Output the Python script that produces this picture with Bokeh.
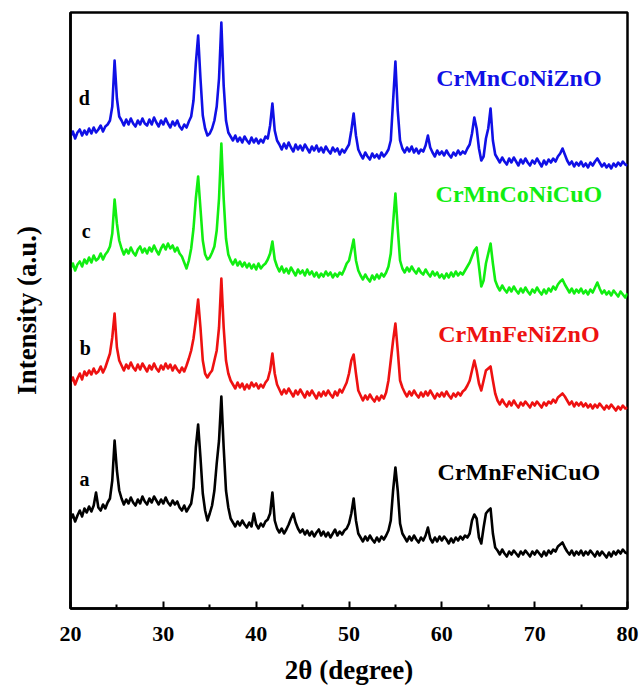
import numpy as np
from bokeh.plotting import figure
from bokeh.models import Range1d, FixedTicker, Label
from bokeh.embed import file_html
from bokeh.resources import INLINE

# scan settings (2theta grid of the measurement)
scan_start = 20.0
scan_step = 0.25
n_points = 241
two_theta = [round(scan_start + scan_step * i, 2) for i in range(n_points)]

# intensities (a.u.), one value per grid step
I_CrMnFeNiCuO = [
    89, 94, 87, 93, 98, 92, 100, 96, 102, 97, 103, 116, 101, 98, 104, 100, 106, 110, 128, 168,
    138, 118, 110, 104, 109, 105, 111, 106, 103, 109, 105, 112, 107, 104, 110, 106, 112, 108, 104, 109,
    105, 111, 106, 103, 108, 104, 107, 101, 98, 103, 97, 101, 105, 121, 161, 184, 151, 115, 98, 88,
    95, 103, 118, 145, 168, 212, 161, 118, 101, 90, 86, 82, 87, 83, 88, 84, 81, 86, 82, 95,
    84, 80, 85, 82, 87, 89, 95, 116, 88, 80, 76, 80, 75, 79, 84, 90, 95, 86, 80, 76,
    79, 74, 78, 73, 77, 72, 76, 79, 73, 77, 72, 76, 71, 75, 79, 73, 77, 74, 78, 80,
    85, 95, 110, 88, 75, 71, 67, 72, 68, 73, 69, 66, 71, 67, 72, 69, 73, 78, 88, 118,
    141, 118, 85, 75, 71, 67, 72, 68, 73, 69, 66, 71, 68, 73, 81, 70, 66, 71, 67, 72,
    68, 72, 69, 65, 70, 66, 71, 68, 72, 69, 73, 71, 75, 88, 94, 90, 71, 65, 81, 95,
    98, 100, 75, 61, 58, 54, 59, 55, 52, 57, 54, 58, 55, 52, 57, 54, 58, 55, 52, 57,
    54, 58, 55, 52, 57, 53, 58, 55, 59, 57, 62, 64, 66, 61, 57, 54, 58, 53, 57, 54,
    58, 53, 57, 54, 58, 55, 52, 57, 53, 57, 54, 51, 56, 52, 57, 54, 58, 55, 59, 56,
    55,
]
I_CrMnFeNiZnO = [
    86, 91, 84, 90, 95, 89, 97, 93, 98, 94, 100, 95, 97, 102, 96, 101, 108, 115, 131, 155,
    121, 108, 103, 98, 104, 100, 106, 101, 98, 104, 99, 105, 101, 97, 103, 99, 105, 100, 97, 103,
    99, 105, 100, 104, 98, 103, 99, 96, 101, 97, 103, 110, 118, 130, 148, 169, 141, 108, 95, 91,
    95, 98, 108, 118, 141, 190, 141, 108, 95, 88, 84, 80, 86, 81, 85, 79, 84, 80, 86, 82,
    85, 80, 84, 81, 86, 89, 98, 115, 95, 84, 79, 74, 79, 75, 80, 76, 72, 78, 74, 79,
    75, 71, 77, 73, 78, 74, 70, 76, 72, 77, 73, 78, 74, 71, 77, 73, 79, 76, 81, 86,
    95, 108, 114, 95, 78, 73, 68, 73, 69, 74, 70, 67, 72, 68, 73, 70, 76, 88, 108, 128,
    145, 118, 88, 81, 76, 72, 77, 73, 78, 74, 71, 76, 72, 77, 73, 78, 74, 70, 75, 72,
    76, 72, 77, 73, 70, 75, 72, 76, 73, 77, 79, 83, 88, 98, 108, 98, 85, 78, 88, 98,
    100, 102, 88, 75, 68, 64, 69, 65, 62, 67, 63, 68, 64, 61, 66, 63, 67, 64, 61, 66,
    63, 67, 64, 61, 66, 63, 67, 65, 69, 66, 71, 73, 75, 72, 68, 64, 67, 62, 66, 63,
    66, 62, 65, 61, 64, 60, 64, 61, 65, 62, 59, 63, 60, 64, 61, 58, 62, 59, 63, 60,
    61,
]
I_CrMnCoNiCuO = [
    90, 95, 88, 94, 97, 92, 99, 95, 101, 96, 103, 98, 100, 105, 99, 104, 107, 112, 125, 159,
    135, 118, 110, 104, 109, 105, 111, 106, 103, 109, 112, 106, 110, 105, 111, 107, 113, 108, 104, 110,
    114, 109, 115, 110, 113, 107, 111, 105, 102, 96, 90, 98, 110, 130, 160, 182, 150, 118, 104, 99,
    101, 106, 112, 128, 160, 215, 160, 120, 104, 98, 94, 99, 93, 97, 92, 96, 91, 95, 90, 94,
    89, 95, 90, 93, 95, 99, 105, 117, 99, 92, 87, 92, 86, 90, 85, 91, 87, 83, 89, 85,
    88, 83, 89, 84, 87, 82, 86, 81, 85, 82, 87, 83, 86, 81, 85, 82, 86, 84, 89, 95,
    98, 108, 119, 98, 88, 83, 79, 84, 80, 77, 83, 79, 84, 80, 85, 82, 86, 92, 105, 135,
    165, 130, 98, 90, 86, 91, 87, 92, 88, 85, 90, 86, 84, 89, 85, 82, 87, 83, 86, 81,
    84, 80, 85, 81, 86, 82, 87, 83, 86, 84, 88, 92, 96, 102, 108, 111, 92, 72, 78, 95,
    105, 115, 95, 78, 72, 68, 73, 69, 66, 71, 67, 72, 68, 65, 70, 66, 71, 67, 64, 69,
    66, 71, 67, 64, 69, 65, 70, 67, 72, 69, 74, 77, 79, 74, 70, 66, 70, 65, 69, 66,
    70, 65, 68, 64, 69, 66, 71, 76, 70, 65, 68, 64, 67, 63, 68, 65, 62, 67, 64, 61,
    65,
]
I_CrMnCoNiZnO = [
    92, 97, 90, 96, 99, 93, 98, 94, 100, 95, 101, 96, 99, 103, 97, 102, 104, 108, 122, 168,
    130, 112, 108, 103, 109, 104, 110, 105, 102, 108, 104, 110, 105, 103, 109, 104, 111, 106, 102, 108,
    104, 110, 105, 101, 107, 103, 108, 102, 99, 104, 101, 107, 112, 128, 165, 193, 150, 113, 100, 93,
    95, 100, 108, 122, 150, 206, 143, 108, 96, 92, 88, 93, 87, 91, 86, 92, 88, 85, 91, 86,
    90, 85, 89, 86, 92, 90, 103, 125, 98, 88, 84, 79, 85, 80, 86, 81, 77, 84, 79, 83,
    78, 84, 80, 76, 82, 78, 83, 77, 81, 76, 82, 78, 75, 81, 77, 80, 74, 79, 76, 80,
    84, 98, 115, 93, 79, 74, 70, 76, 72, 69, 75, 71, 74, 70, 76, 72, 75, 79, 88, 128,
    167, 118, 88, 80, 76, 81, 77, 82, 76, 80, 75, 79, 77, 83, 93, 81, 76, 72, 78, 74,
    77, 73, 78, 74, 71, 76, 73, 78, 74, 77, 75, 80, 84, 95, 111, 100, 80, 68, 72, 90,
    100, 120, 88, 74, 70, 66, 71, 67, 64, 70, 66, 71, 67, 63, 69, 65, 70, 66, 63, 68,
    65, 70, 66, 62, 68, 64, 69, 66, 70, 67, 72, 75, 80, 74, 68, 64, 67, 62, 66, 63,
    67, 62, 65, 61, 66, 63, 67, 70, 66, 62, 65, 61, 64, 60, 65, 62, 66, 63, 67, 64,
    63,
]

series_names = ["CrMnFeNiCuO", "CrMnFeNiZnO", "CrMnCoNiCuO", "CrMnCoNiZnO"]
series_letters = ["a", "b", "c", "d"]
series_values = [I_CrMnFeNiCuO, I_CrMnFeNiZnO, I_CrMnCoNiCuO, I_CrMnCoNiZnO]
stack_offsets = [0, 140, 250, 380]
series_colors = ["#000000", "#ee1111", "#11ee11", "#1010e6"]

x_ticks = [20, 30, 40, 50, 60, 70, 80]
x_minor_ticks = [25, 35, 45, 55, 65, 75]

FONT = "Liberation Serif"

p = figure(width=641, height=693, x_range=Range1d(20, 80), y_range=Range1d(0, 596),
           output_backend="svg", toolbar_location=None,
           min_border_left=70, min_border_right=14, min_border_top=12, min_border_bottom=85)

p.xgrid.visible = False
p.ygrid.visible = False
p.outline_line_color = "black"
p.outline_line_width = 2.5
p.outline_line_alpha = 1.0

for vals, off, col in zip(series_values, stack_offsets, series_colors):
    ys = [v + off for v in vals]
    p.line(two_theta, ys, line_color=col, line_width=2.6, line_join="round")

# x axis
xa = p.xaxis[0]
xa.ticker = FixedTicker(ticks=x_ticks, minor_ticks=x_minor_ticks)
xa.axis_label = "2θ (degree)"
xa.axis_label_text_font = FONT
xa.axis_label_text_font_style = "bold"
xa.axis_label_text_font_size = "27px"
xa.axis_label_text_color = "black"
xa.axis_label_standoff = 11
xa.major_label_text_font = FONT
xa.major_label_text_font_style = "bold"
xa.major_label_text_font_size = "22px"
xa.major_label_text_color = "black"
xa.major_label_standoff = 18
xa.axis_line_width = 2.5
xa.axis_line_color = "black"
xa.major_tick_in = 7
xa.major_tick_out = 0
xa.minor_tick_in = 4
xa.minor_tick_out = 0
xa.major_tick_line_width = 2
xa.minor_tick_line_width = 2
xa.major_tick_line_color = "black"
xa.minor_tick_line_color = "black"

# y axis
ya = p.yaxis[0]
ya.ticker = FixedTicker(ticks=[])
ya.axis_label = "Intensity (a.u.)"
ya.axis_label_text_font = FONT
ya.axis_label_text_font_style = "bold"
ya.axis_label_text_font_size = "27px"
ya.axis_label_text_color = "black"
ya.axis_label_standoff = 29
ya.axis_line_width = 2.5
ya.axis_line_color = "black"
ya.major_tick_line_color = None
ya.minor_tick_line_color = None

letter_pos = [(21.5, 130), (21.6, 261), (21.7, 378), (21.5, 511)]
name_pos = [(68.3, 137), (68.3, 275), (68.3, 415), (68.3, 531)]

for (lx, ly), letter in zip(letter_pos, series_letters):
    p.add_layout(Label(x=lx, y=ly, text=letter, text_font=FONT, text_font_style="bold",
                       text_font_size="20px", text_color="black",
                       text_align="center", text_baseline="middle"))

for (nx, ny), name, col in zip(name_pos, series_names, series_colors):
    p.add_layout(Label(x=nx, y=ny, text=name, text_font=FONT, text_font_style="bold",
                       text_font_size="24px", text_color=col,
                       text_align="center", text_baseline="middle"))

open("out.html", "w").write(file_html(p, INLINE))
